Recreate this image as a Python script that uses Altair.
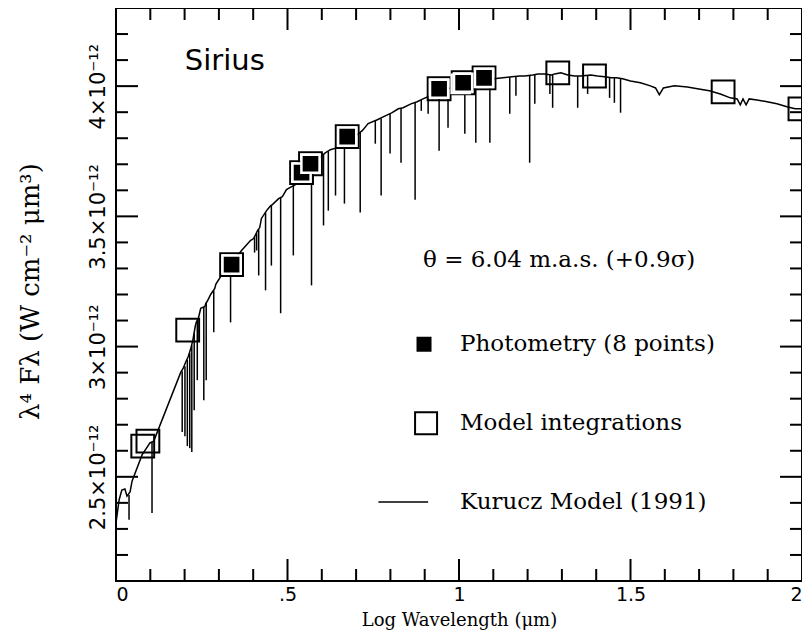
import altair as alt
import pandas as pd

# ---- Kurucz model (1991): continuum of the spectrum (log wavelength, lambda^4 F_lambda in 1e-12 W cm^-2 um^3)
cont_x = [0.000, 0.009, 0.017, 0.026, 0.032, 0.041, 0.047, 0.076, 0.099, 0.110, 0.189, 0.196,
          0.203, 0.211, 0.218, 0.224, 0.231, 0.234, 0.240, 0.247, 0.259, 0.262, 0.266, 0.276,
          0.288, 0.291, 0.305, 0.323, 0.340, 0.366, 0.392, 0.401, 0.407, 0.413, 0.419, 0.424,
          0.439, 0.451, 0.456, 0.474, 0.485, 0.497, 0.512, 0.523, 0.541, 0.555, 0.576, 0.590,
          0.610, 0.625, 0.645, 0.672, 0.692, 0.718, 0.735, 0.762, 0.779, 0.805, 0.823, 0.837,
          0.860, 0.878, 0.895, 0.916, 0.930, 0.948, 0.974, 0.997, 1.026, 1.055, 1.078, 1.102,
          1.128, 1.154, 1.177, 1.192, 1.215, 1.230, 1.250, 1.270, 1.279, 1.297, 1.317, 1.337,
          1.355, 1.384, 1.404, 1.424, 1.445, 1.459, 1.477, 1.500, 1.529, 1.558, 1.573, 1.584,
          1.596, 1.628, 1.666, 1.695, 1.730, 1.762, 1.791, 1.811, 1.820, 1.828, 1.837, 1.846,
          1.869, 1.898, 1.927, 1.956, 1.980, 2.000]
cont_y = [2.323, 2.411, 2.449, 2.453, 2.426, 2.442, 2.484, 2.584, 2.630, 2.637, 2.902, 2.917,
          2.940, 2.963, 2.993, 3.024, 3.078, 3.093, 3.108, 3.147, 3.154, 3.166, 3.174, 3.200,
          3.223, 3.239, 3.269, 3.308, 3.323, 3.369, 3.407, 3.415, 3.430, 3.446, 3.457, 3.492,
          3.522, 3.541, 3.545, 3.568, 3.576, 3.603, 3.614, 3.622, 3.653, 3.676, 3.698, 3.721,
          3.744, 3.756, 3.764, 3.783, 3.802, 3.829, 3.856, 3.871, 3.882, 3.898, 3.913, 3.917,
          3.932, 3.940, 3.951, 3.963, 3.974, 3.982, 3.993, 3.997, 4.005, 4.016, 4.024, 4.028,
          4.032, 4.036, 4.039, 4.039, 4.043, 4.047, 4.047, 4.043, 4.047, 4.051, 4.043, 4.039,
          4.039, 4.043, 4.039, 4.036, 4.032, 4.032, 4.028, 4.020, 4.013, 4.001, 3.993, 3.967,
          3.993, 4.001, 3.997, 3.990, 3.982, 3.970, 3.955, 3.951, 3.928, 3.951, 3.928, 3.951,
          3.947, 3.940, 3.932, 3.921, 3.913, 3.913]

# ---- absorption lines of the model: position, continuum level, line minimum
line_x = [0.038, 0.105, 0.193, 0.201, 0.208, 0.215, 0.221, 0.228, 0.237, 0.256, 0.263, 0.285,
          0.334, 0.404, 0.410, 0.416, 0.436, 0.453, 0.480, 0.517, 0.570, 0.605, 0.619, 0.640,
          0.666, 0.712, 0.756, 0.773, 0.799, 0.831, 0.872, 0.890, 0.910, 0.942, 0.968, 1.017,
          1.049, 1.090, 1.148, 1.166, 1.206, 1.221, 1.265, 1.273, 1.346, 1.375, 1.439, 1.453,
          1.471]
line_top = [2.430, 2.633, 2.905, 2.925, 2.950, 2.975, 3.005, 3.050, 3.100, 3.152, 3.168, 3.215,
            3.318, 3.420, 3.435, 3.450, 3.515, 3.543, 3.572, 3.617, 3.690, 3.738, 3.750, 3.762,
            3.780, 3.822, 3.866, 3.876, 3.893, 3.915, 3.937, 3.947, 3.960, 3.980, 3.990, 4.002,
            4.013, 4.026, 4.035, 4.037, 4.041, 4.045, 4.045, 4.044, 4.039, 4.041, 4.033, 4.032,
            4.030]
line_bottom = [2.335, 2.361, 2.672, 2.656, 2.618, 2.610, 2.595, 2.756, 2.871, 2.794, 2.871, 3.055,
               3.093, 3.361, 3.369, 3.273, 3.216, 3.311, 3.128, 3.350, 3.235, 3.465, 3.522, 3.580,
               3.549, 3.515, 3.779, 3.580, 3.741, 3.706, 3.564, 3.905, 3.894, 3.752, 3.840, 3.817,
               3.783, 3.783, 3.894, 3.963, 3.706, 3.932, 3.970, 3.917, 3.917, 3.970, 3.955, 3.936,
               3.898]

# ---- Photometry (8 points)
phot_x = [0.337, 0.541, 0.567, 0.674, 0.942, 1.005, 1.012, 1.073]
phot_y = [3.315, 3.668, 3.702, 3.806, 3.990, 4.009, 4.013, 4.032]

# ---- Model integrations
model_x = [0.078, 0.093, 0.209, 0.337, 0.541, 0.567, 0.674, 0.942, 1.012, 1.073,
           1.288, 1.395, 1.770, 1.994]
model_y = [2.618, 2.637, 3.063, 3.315, 3.668, 3.702, 3.806, 3.990, 4.013, 4.032,
           4.051, 4.039, 3.978, 3.913]

# ---- axis ticks / labels
x_tick_values = [round(0.1 * i, 1) for i in range(1, 20)]
x_major_values = [0.5, 1.0, 1.5]
y_tick_values = [round(2.1 + 0.1 * i, 1) for i in range(1, 22)]
y_major_values = [2.5, 3.0, 3.5, 4.0]
x_label_values = [0, 0.5, 1, 1.5, 2]
y_label_values = [2.5, 3.0, 3.5, 4.0]

X0, X1, Y0, Y1 = 0.0, 2.0, 2.1, 4.3
W, H = 686, 573
px_x = (X1 - X0) / W
px_y = (Y1 - Y0) / H
MAJ, MIN = 22, 12

rows = []
for v in x_tick_values:
    L = (MAJ if v in x_major_values else MIN)
    rows.append(dict(x=v, x2=v, y=Y0, y2=Y0 + L * px_y))
    rows.append(dict(x=v, x2=v, y=Y1, y2=Y1 - L * px_y))
for v in y_tick_values:
    L = (MAJ if v in y_major_values else MIN)
    rows.append(dict(x=X0, x2=X0 + L * px_x, y=v, y2=v))
    rows.append(dict(x=X1, x2=X1 - L * px_x, y=v, y2=v))
ticks_df = pd.DataFrame(rows)

cont_df = pd.DataFrame({"x": cont_x, "y": cont_y, "i": range(len(cont_x))})
lines_df = pd.DataFrame({"x": line_x, "y": line_top, "y2": line_bottom})
phot_df = pd.DataFrame({"x": phot_x, "y": phot_y})
model_df = pd.DataFrame({"x": model_x, "y": model_y})

xs = alt.Scale(domain=[X0, X1], nice=False, zero=False)
ys = alt.Scale(domain=[Y0, Y1], nice=False, zero=False)

x_axis = alt.Axis(
    values=x_label_values,
    labelExpr="datum.value == 0.5 ? '.5' : format(datum.value, '~g')",
    grid=False, ticks=False, tickSize=0, domain=False,
    labelFont="DejaVu Sans", labelFontSize=19, labelColor="black", labelPadding=4,
    labelFlush=True, labelOverlap=False,
    title="Log Wavelength (μm)", titleFont="DejaVu Serif", titleFontSize=18,
    titleFontWeight="normal", titleColor="black", titleY=39, titleBaseline="middle",
)
y_axis = alt.Axis(
    values=y_label_values,
    labelExpr="format(datum.value, '~g') + '×10⁻¹²'",
    grid=False, ticks=False, tickSize=0, domain=False,
    labelFont="DejaVu Sans", labelFontSize=21, labelColor="black", labelPadding=8,
    labelAngle=270, labelAlign="center", labelBaseline="bottom",
    labelFlush=False, labelOverlap=False,
    title="λ⁴ Fλ  (W  cm⁻²  μm³)", titleFont="DejaVu Serif", titleFontSize=26,
    titleFontWeight="normal", titleColor="black", titleAngle=270,
    titleX=-86, titleY=283, titleAlign="center", titleBaseline="middle",
)


def X(field="x"):
    return alt.X(f"{field}:Q", scale=xs, axis=x_axis)


def Y(field="y"):
    return alt.Y(f"{field}:Q", scale=ys, axis=y_axis)


continuum = alt.Chart(cont_df).mark_line(color="black", strokeWidth=1.5).encode(
    x=X(), y=Y(), order="i:Q",
)

absorption = alt.Chart(lines_df).mark_rule(color="black", strokeWidth=1.5).encode(
    x=X(), y=Y(), y2="y2:Q",
)

ticks = alt.Chart(ticks_df).mark_rule(color="black", strokeWidth=2).encode(
    x=X(), x2="x2:Q", y=Y(), y2="y2:Q",
)

model = alt.Chart(model_df).mark_point(
    shape="square", filled=False, size=520, color="black", strokeWidth=2, opacity=1, clip=True
).encode(x=X(), y=Y())

phot = alt.Chart(phot_df).mark_point(
    shape="square", filled=True, size=330, fill="black", stroke="white", strokeWidth=2.5, opacity=1
).encode(x=X(), y=Y())

# ---- annotations / legend
legend_text_df = pd.DataFrame({
    "x": [0.895, 1.003, 1.003, 1.003],
    "y": [3.334, 3.009, 2.706, 2.403],
    "t": ["θ = 6.04 m.a.s. (+0.9σ)", "Photometry (8 points)", "Model integrations", "Kurucz Model (1991)"],
})
legend_text = alt.Chart(legend_text_df).mark_text(
    align="left", baseline="middle", font="DejaVu Serif", fontSize=23, color="black"
).encode(x=X(), y=Y(), text="t:N")

sirius = alt.Chart(pd.DataFrame({"x": [0.2006], "y": [4.097], "t": ["Sirius"]})).mark_text(
    align="left", baseline="middle", font="DejaVu Sans", fontSize=29, color="black"
).encode(x=X(), y=Y(), text="t:N")

leg_filled = alt.Chart(pd.DataFrame({"x": [0.898], "y": [3.009]})).mark_point(
    shape="square", filled=True, size=225, color="black", opacity=1
).encode(x=X(), y=Y())

leg_open = alt.Chart(pd.DataFrame({"x": [0.904], "y": [2.706]})).mark_point(
    shape="square", filled=False, size=484, color="black", strokeWidth=2, opacity=1
).encode(x=X(), y=Y())

leg_line = alt.Chart(pd.DataFrame({"x": [0.765], "x2": [0.910], "y": [2.403]})).mark_rule(
    color="black", strokeWidth=1.5
).encode(x=X(), x2="x2:Q", y=Y())

chart = alt.layer(
    continuum, absorption, ticks, model, phot, legend_text, sirius, leg_filled, leg_open, leg_line
).properties(
    width=W, height=H,
    autosize=alt.AutoSizeParams(type="none"),
    padding={"left": 108, "top": 0, "right": 0, "bottom": 50},
    background="white",
).configure_view(
    stroke="black", strokeWidth=2
)

chart.save("out.html", embed_options={"renderer": "svg", "actions": False})
